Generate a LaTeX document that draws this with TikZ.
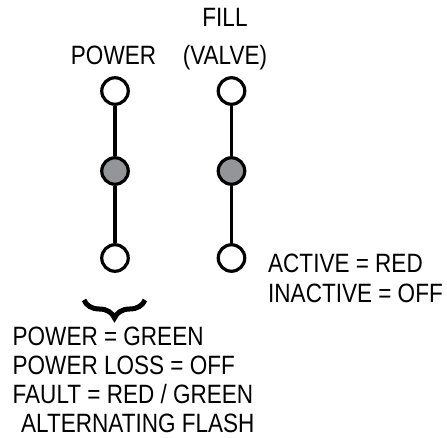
\documentclass[tikz,border=0pt]{standalone}
\usepackage{fontspec}
\setmainfont{Liberation Sans}[FakeStretch=0.85]
\usetikzlibrary{decorations.pathreplacing}
\definecolor{ledgray}{HTML}{939598}

\begin{document}
\begin{tikzpicture}[
    x=1pt, y=-1pt,
    lamp/.style={draw, circle, line width=3.2pt, minimum size=26.5pt, inner sep=0pt, fill=white},
    lit/.style={lamp, fill=ledgray},
    wire/.style={line width=3.2pt},
    txt/.style={font=\fontsize{26.5}{29.5}\selectfont, inner sep=0pt},
  ]
  \useasboundingbox (0,0) rectangle (447,438);

  % Lamps
  \node[lamp] (pwrtop) at (115,91)  {};
  \node[lit]  (pwrmid) at (115,171) {};
  \node[lamp] (pwrbot) at (115,258) {};
  \node[lamp] (filtop) at (231.5,91)  {};
  \node[lit]  (filmid) at (231.5,171) {};
  \node[lamp] (filbot) at (231.5,258) {};

  % Wires
  \draw[wire] (pwrtop) -- (pwrmid) -- (pwrbot);
  \draw[wire] (filtop) -- (filmid) -- (filbot);

  % Headings
  \node[txt, anchor=base] (pwrlabel) at (113.5,65) {POWER};
  \node[txt, anchor=base] (fillabel) at (225,27) {FILL};
  \node[txt, anchor=base] (vallabel) at (225,65) {(VALVE)};

  % Fill legend
  \node[txt, anchor=base west] (active)   at (268,273) {ACTIVE = RED};
  \node[txt, anchor=base west] (inactive) at (268,302) {INACTIVE = OFF};

  % Power legend
  \coordinate (braceL) at (84,300);
  \coordinate (braceR) at (145,300);
  \draw[line width=5pt, decorate, decoration={brace, mirror, amplitude=18pt}] (braceL) -- (braceR);
  \node[txt, anchor=base west] (pwrgreen) at (12.5,345) {POWER = GREEN};
  \node[txt, anchor=base west] (pwrloss)  at (12.5,374.5) {POWER LOSS = OFF};
  \node[txt, anchor=base west] (pwrfault) at (12.5,403.5) {FAULT = RED / GREEN};
  \node[txt, anchor=base west] (pwrflash) at (21,432.5)   {ALTERNATING FLASH};
\end{tikzpicture}
\end{document}
